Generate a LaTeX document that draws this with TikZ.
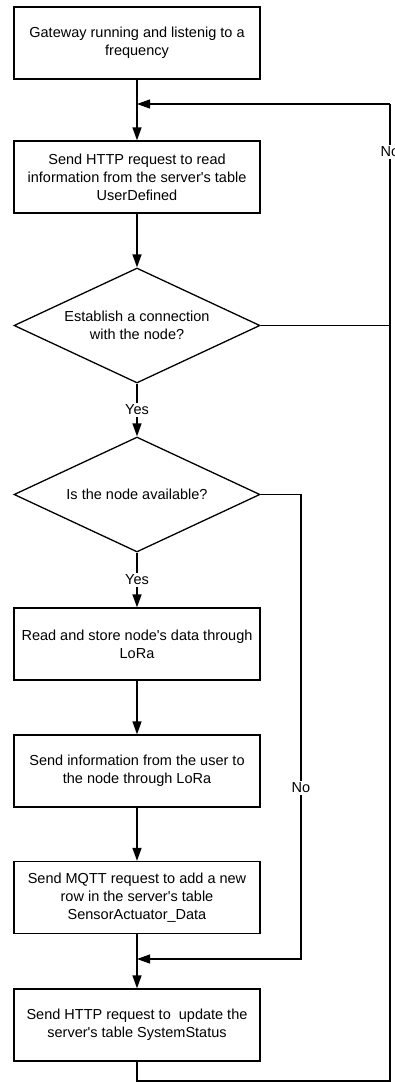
\documentclass[tikz,border=0pt]{standalone}
\usepackage{fontspec}
\setmainfont{Liberation Sans}
\usetikzlibrary{shapes.geometric,arrows.meta}

\begin{document}
\begin{tikzpicture}[x=1pt,y=-1pt,
	font=\fontsize{14.5}{18}\selectfont,
	stepbox/.style={rectangle,draw,line width=1.3pt,minimum width=246pt,minimum height=72pt,align=center,inner sep=0pt},
	decision/.style={diamond,draw,line width=1.3pt,minimum width=246pt,minimum height=115pt,aspect=2.14,align=center,inner sep=0pt},
	arr/.style={line width=1.5pt,-{Triangle[length=13pt,width=9pt]}},
	loopline/.style={line width=1.1pt},
	lbl/.style={fill=white,inner sep=1.5pt}]
	\useasboundingbox (0,0) rectangle (395,1082);

	\node (box1) at (137,43) [stepbox] {Gateway running and listenig to a\\frequency};
	\node (box2) at (137,177) [stepbox] {Send HTTP request to read\\information from the server\textquotesingle s table\\UserDefined};
	\node (d1) at (137,325.5) [decision] {Establish a connection\\with the node?};
	\node (d2) at (137,494.5) [decision] {Is the node available?};
	\node (box3) at (137,644) [stepbox] {Read and store node\textquotesingle s data through\\LoRa};
	\node (box4) at (137,771) [stepbox] {Send information from the user to\\the node through LoRa};
	\node (box5) at (137,897.5) [stepbox] {Send MQTT request to add a new\\row in the server\textquotesingle s table\\SensorActuator\_Data};
	\node (box6) at (137,1025) [stepbox] {Send HTTP request to\ \ update the\\server\textquotesingle s table SystemStatus};

	\coordinate (j1) at (137,104);
	\coordinate (j2) at (137,959);
	\coordinate (bl) at (137,1081);
	\coordinate (br) at (390,1081);
	\coordinate (tr) at (390,104);
	\coordinate (r2) at (301,959);

	\draw[arr] (box1) -- (box2);
	\draw[arr] (box2) -- (d1);
	\draw[arr] (d1) -- node[lbl] {Yes} (d2);
	\draw[arr] (d2) -- node[lbl] {Yes} (box3);
	\draw[arr] (box3) -- (box4);
	\draw[arr] (box4) -- (box5);
	\draw[arr] (box5) -- (box6);

	\draw[loopline] (box6) -- (bl) -- (br) -- (tr);
	\draw[loopline,-{Triangle[length=13pt,width=9pt]}] (tr) -- (j1);
	\draw[loopline] (d1.east) -- (d1.east -| tr);
	\node (no1) at (390,152) [lbl] {No};

	\draw[loopline,-{Triangle[length=13pt,width=9pt]}] (d2.east) -| (r2) -- (j2);
	\node (no2) at (301,788) [lbl] {No};
\end{tikzpicture}
\end{document}
